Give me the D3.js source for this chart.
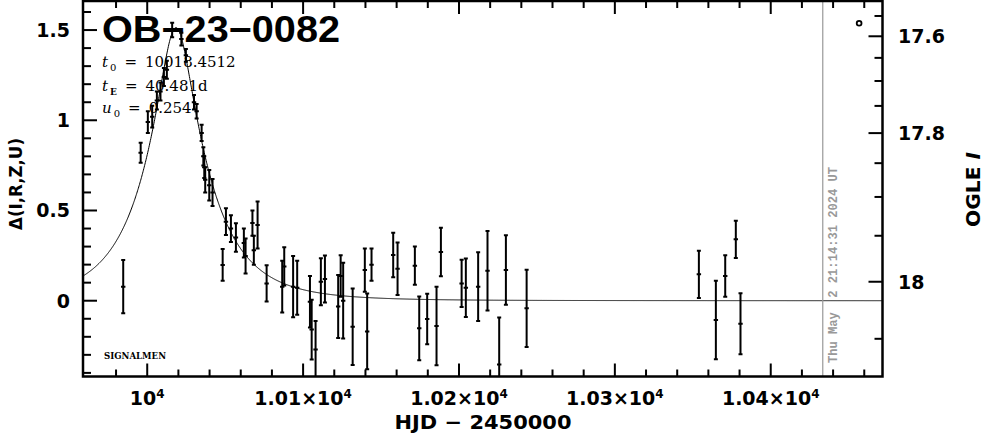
<!DOCTYPE html>
<html><head><meta charset="utf-8">
<script src="https://cdn.jsdelivr.net/npm/d3@7"></script>
<style>body{margin:0;background:#fff}svg{display:block}</style>
</head><body>
<svg id="chart" width="986" height="434"></svg>
<script>
// ---- data ----
const obsHJD = [9984.6, 9995.8, 10000.4, 10003.2, 10006.2, 10008.5, 10010.7, 10012.6, 10016.0, 10021.9,
  10024.8, 10030.0, 10031.7, 10034.9, 10036.0, 10036.6, 10037.2, 10039.8, 10041.9, 10048.4,
  10050.5, 10053.7, 10056.9, 10062.0, 10063.1, 10067.5, 10068.4, 10070.8, 10076.6, 10086.6,
  10087.9, 10093.6, 10096.2, 10104.4, 10105.5, 10108.0, 10111.4, 10114.0, 10122.5, 10124.1,
  10125.7, 10131.8, 10139.6, 10141.1, 10143.9, 10157.8, 10160.6, 10171.7, 10174.5, 10179.6,
  10185.6, 10188.4, 10201.7, 10204.4, 10212.3, 10218.3, 10225.8, 10230.1, 10243.4, 10353.9,
  10364.8, 10370.8, 10377.6, 10380.6];
const obsDelta = [0.078, 0.82, 0.99, 1.02, 1.11, 1.16, 1.24, 1.28, 1.50, 1.45,
  1.36, 1.10, 1.05, 0.93, 0.80, 0.74, 0.67, 0.64, 0.60, 0.198,
  0.438, 0.40, 0.35, 0.32, 0.248, 0.43, 0.28, 0.42, 0.096, 0.078,
  0.19, 0.078, 0.072, -0.006, -0.16, -0.27, 0.105, 0.12, -0.032, 0.137,
  0.0, -0.144, 0.17, -0.17, 0.2, 0.253, 0.177, 0.194, -0.153, -0.101,
  -0.14, 0.27, 0.096, 0.072, 0.078, 0.166, -0.353, 0.17, -0.042, 0.146,
  -0.107, 0.137, 0.34, -0.127];
const obsErr = [0.148, 0.055, 0.06, 0.06, 0.05, 0.05, 0.05, 0.05, 0.04, 0.035,
  0.035, 0.04, 0.04, 0.045, 0.05, 0.06, 0.07, 0.085, 0.075, 0.088,
  0.074, 0.074, 0.079, 0.08, 0.097, 0.07, 0.08, 0.13, 0.10, 0.143,
  0.106, 0.17, 0.15, 0.143, 0.166, 0.157, 0.13, 0.13, 0.175, 0.115,
  0.21, 0.212, 0.12, 0.21, 0.09, 0.123, 0.145, 0.106, 0.177, 0.14,
  0.217, 0.135, 0.131, 0.162, 0.19, 0.22, 0.26, 0.193, 0.214, 0.131,
  0.218, 0.115, 0.103, 0.169];

// model parameters (printed on the chart)
const modelT0 = 10018.4512, modelTE = 40.481, modelU0 = 0.254;
const paramSymbols = ["t", "t", "u"];
const paramSubs = ["0", "E", "0"];
const paramTexts = [String(modelT0), modelTE + "d", String(modelU0)];

// axes
const xDomain = [9958.8, 10471.7];
const yDomain = [-0.42, 1.661];
const xMajorTicks = [10000, 10100, 10200, 10300, 10400];
const xTickMantissa = ["", "1.01×", "1.02×", "1.03×", "1.04×"];
const yMajorTicks = [0, 0.5, 1, 1.5];
const yTickLabels = ["0", "0.5", "1", "1.5"];
const magMajorTicks = [17.6, 17.8, 18.0];
const magTickLabels = ["17.6", "17.8", "18"];
const magMinorTicks = [17.55, 17.65, 17.7, 17.75, 17.85, 17.9, 17.95, 18.05];
// right-axis calibration: I = baseMag - 2.5 log10(1 + blendFs (10^(0.4 Δ) - 1))
const baseMag = 18.018, blendFs = 0.1644;

const titleText = "OB\u221223\u22120082";
const nowHJD = 10433.38;
const nowText = "Thu May  2 21:14:31 2024 UT";
const markerHJD = [10456.7], markerDelta = [1.538];

// ---- drawing ----
const svg = d3.select("#chart");
const L = 83, R = 882.5, T = 1, B = 376.5;
const x = d3.scaleLinear().domain(xDomain).range([L, R]);
const y = d3.scaleLinear().domain(yDomain).range([B, T]);
const magToDelta = m => 2.5 * Math.log10(1 + (Math.pow(10, -0.4 * (m - baseMag)) - 1) / blendFs);

svg.append("defs").append("clipPath").attr("id", "clip")
  .append("rect").attr("x", L).attr("y", T).attr("width", R - L).attr("height", B - T);
const plot = svg.append("g").attr("clip-path", "url(#clip)");

// model curve
function magnif(t) {
  const tau = (t - modelT0) / modelTE;
  const u = Math.sqrt(modelU0 * modelU0 + tau * tau);
  return (u * u + 2) / (u * Math.sqrt(u * u + 4));
}
const curveT = d3.range(xDomain[0], xDomain[1], 0.25);
plot.append("path")
  .datum(curveT)
  .attr("fill", "none").attr("stroke", "#000").attr("stroke-width", 1)
  .attr("d", d3.line().x(t => x(t)).y(t => y(2.5 * Math.log10(magnif(t)))));

// now line
svg.append("line").attr("x1", x(nowHJD)).attr("x2", x(nowHJD)).attr("y1", T).attr("y2", B)
  .attr("stroke", "#999").attr("stroke-width", 1.2);

// error bars
const obs = obsHJD.map((t, i) => ({t, d: obsDelta[i], e: obsErr[i]}));
const eb = plot.append("g").attr("stroke", "#000").attr("stroke-width", 2);
obs.forEach(o => {
  const cx = x(o.t), y1 = y(o.d + o.e), y2 = y(o.d - o.e), cy = y(o.d);
  eb.append("line").attr("x1", cx).attr("x2", cx).attr("y1", y1).attr("y2", y2);
  eb.append("line").attr("x1", cx - 2).attr("x2", cx + 2).attr("y1", y1).attr("y2", y1);
  eb.append("line").attr("x1", cx - 2).attr("x2", cx + 2).attr("y1", y2).attr("y2", y2);
  eb.append("line").attr("x1", cx - 2.2).attr("x2", cx + 2.2).attr("y1", cy).attr("y2", cy);
});

// marker
svg.selectAll(".mk").data(markerHJD).enter().append("circle")
  .attr("cx", (d) => x(d)).attr("cy", (d, i) => y(markerDelta[i])).attr("r", 2.4)
  .attr("fill", "none").attr("stroke", "#000").attr("stroke-width", 1.8);

// ticks
const tickG = svg.append("g").attr("stroke", "#000").attr("stroke-width", 2);
const xMinor = d3.range(9980, 10471, 20).filter(v => xMajorTicks.indexOf(v) < 0);
function xt(vals, len) {
  vals.forEach(v => {
    tickG.append("line").attr("x1", x(v)).attr("x2", x(v)).attr("y1", B).attr("y2", B - len);
    tickG.append("line").attr("x1", x(v)).attr("x2", x(v)).attr("y1", T).attr("y2", T + len);
  });
}
xt(xMajorTicks, 13); xt(xMinor, 7);
const yMinor = d3.range(-4, 17).map(k => k / 10).filter(v => yMajorTicks.indexOf(v) < 0);
yMajorTicks.forEach(v => tickG.append("line").attr("x1", L).attr("x2", L + 14).attr("y1", y(v)).attr("y2", y(v)));
yMinor.forEach(v => tickG.append("line").attr("x1", L).attr("x2", L + 8).attr("y1", y(v)).attr("y2", y(v)));
magMajorTicks.forEach(m => { const yy = y(magToDelta(m)); tickG.append("line").attr("x1", R).attr("x2", R - 14).attr("y1", yy).attr("y2", yy); });
magMinorTicks.forEach(m => { const yy = y(magToDelta(m)); tickG.append("line").attr("x1", R).attr("x2", R - 8).attr("y1", yy).attr("y2", yy); });

// frame
svg.append("rect").attr("x", L).attr("y", T).attr("width", R - L).attr("height", B - T)
  .attr("fill", "none").attr("stroke", "#000").attr("stroke-width", 2.5);

const numFont = "DejaVu Sans";
// left labels
svg.selectAll(".yl").data(yMajorTicks).enter().append("text")
  .attr("x", 70).attr("y", d => y(d)).attr("dy", "0.36em").attr("text-anchor", "end")
  .attr("font-family", numFont).attr("font-weight", "bold").attr("font-size", 19)
  .text((d, i) => yTickLabels[i]);
// right labels
svg.selectAll(".ml").data(magMajorTicks).enter().append("text")
  .attr("x", 898).attr("y", d => y(magToDelta(d))).attr("dy", "0.36em")
  .attr("font-family", numFont).attr("font-weight", "bold").attr("font-size", 19)
  .text((d, i) => magTickLabels[i]);
// bottom labels
xMajorTicks.forEach((v, i) => {
  const t = svg.append("text").attr("x", x(v)).attr("y", 405).attr("text-anchor", "middle")
    .attr("font-family", numFont).attr("font-weight", "bold").attr("font-size", 19);
  t.append("tspan").text(xTickMantissa[i] + "10");
  t.append("tspan").attr("font-size", 12).attr("dy", -7).text("4");
});
// axis titles
svg.append("text").attr("x", 483).attr("y", 429).attr("text-anchor", "middle")
  .attr("font-family", numFont).attr("font-weight", "bold").attr("font-size", 20)
  .attr("textLength", 177).attr("lengthAdjust", "spacingAndGlyphs")
  .text("HJD \u2212 2450000");
svg.append("text").attr("transform", "translate(22,184) rotate(-90)").attr("text-anchor", "middle")
  .attr("font-family", numFont).attr("font-weight", "bold").attr("font-size", 17)
  .attr("textLength", 92).attr("lengthAdjust", "spacingAndGlyphs")
  .text("\u0394(I,R,Z,U)");
const og = svg.append("text").attr("transform", "translate(980,189.5) rotate(-90)").attr("text-anchor", "middle")
  .attr("font-family", numFont).attr("font-weight", "bold").attr("font-size", 20)
  .attr("textLength", 75).attr("lengthAdjust", "spacingAndGlyphs");
og.append("tspan").text("OGLE ");
og.append("tspan").attr("font-style", "italic").text("I");

// date text
svg.append("text").attr("transform", `translate(837,${265}) rotate(-90)`).attr("text-anchor", "middle")
  .attr("font-family", "Liberation Mono").attr("font-weight", "bold").attr("font-size", 13)
  .attr("fill", "#999").attr("textLength", 196).attr("lengthAdjust", "spacingAndGlyphs")
  .attr("style", "white-space:pre")
  .text(nowText);

// title
svg.append("text").attr("x", 102).attr("y", 42)
  .attr("font-family", "Liberation Sans").attr("font-weight", "bold").attr("font-size", 37)
  .attr("textLength", 238).attr("lengthAdjust", "spacingAndGlyphs")
  .text(titleText);

// parameter lines
const baseY = [66.7, 90.7, 113.3];
paramSymbols.forEach((s, i) => {
  const t = svg.append("text").attr("x", 102).attr("y", baseY[i])
    .attr("font-family", "DejaVu Serif").attr("font-size", 15);
  t.append("tspan").attr("font-style", "italic").text(s);
  t.append("tspan").attr("font-size", i === 1 ? 9 : 10).attr("font-weight", i === 1 ? "bold" : "normal")
    .attr("dx", 2).attr("dy", 4).text(paramSubs[i]);
  t.append("tspan").attr("dx", 8).attr("dy", -4).text("=");
  t.append("tspan").attr("dx", 8).text(paramTexts[i]);
});

// SIGNALMEN
svg.append("text").attr("x", 104).attr("y", 359)
  .attr("font-family", "DejaVu Serif").attr("font-weight", "bold").attr("font-size", 9.5)
  .attr("textLength", 62).attr("lengthAdjust", "spacingAndGlyphs")
  .text("SIGNALMEN");
</script>
</body></html>
